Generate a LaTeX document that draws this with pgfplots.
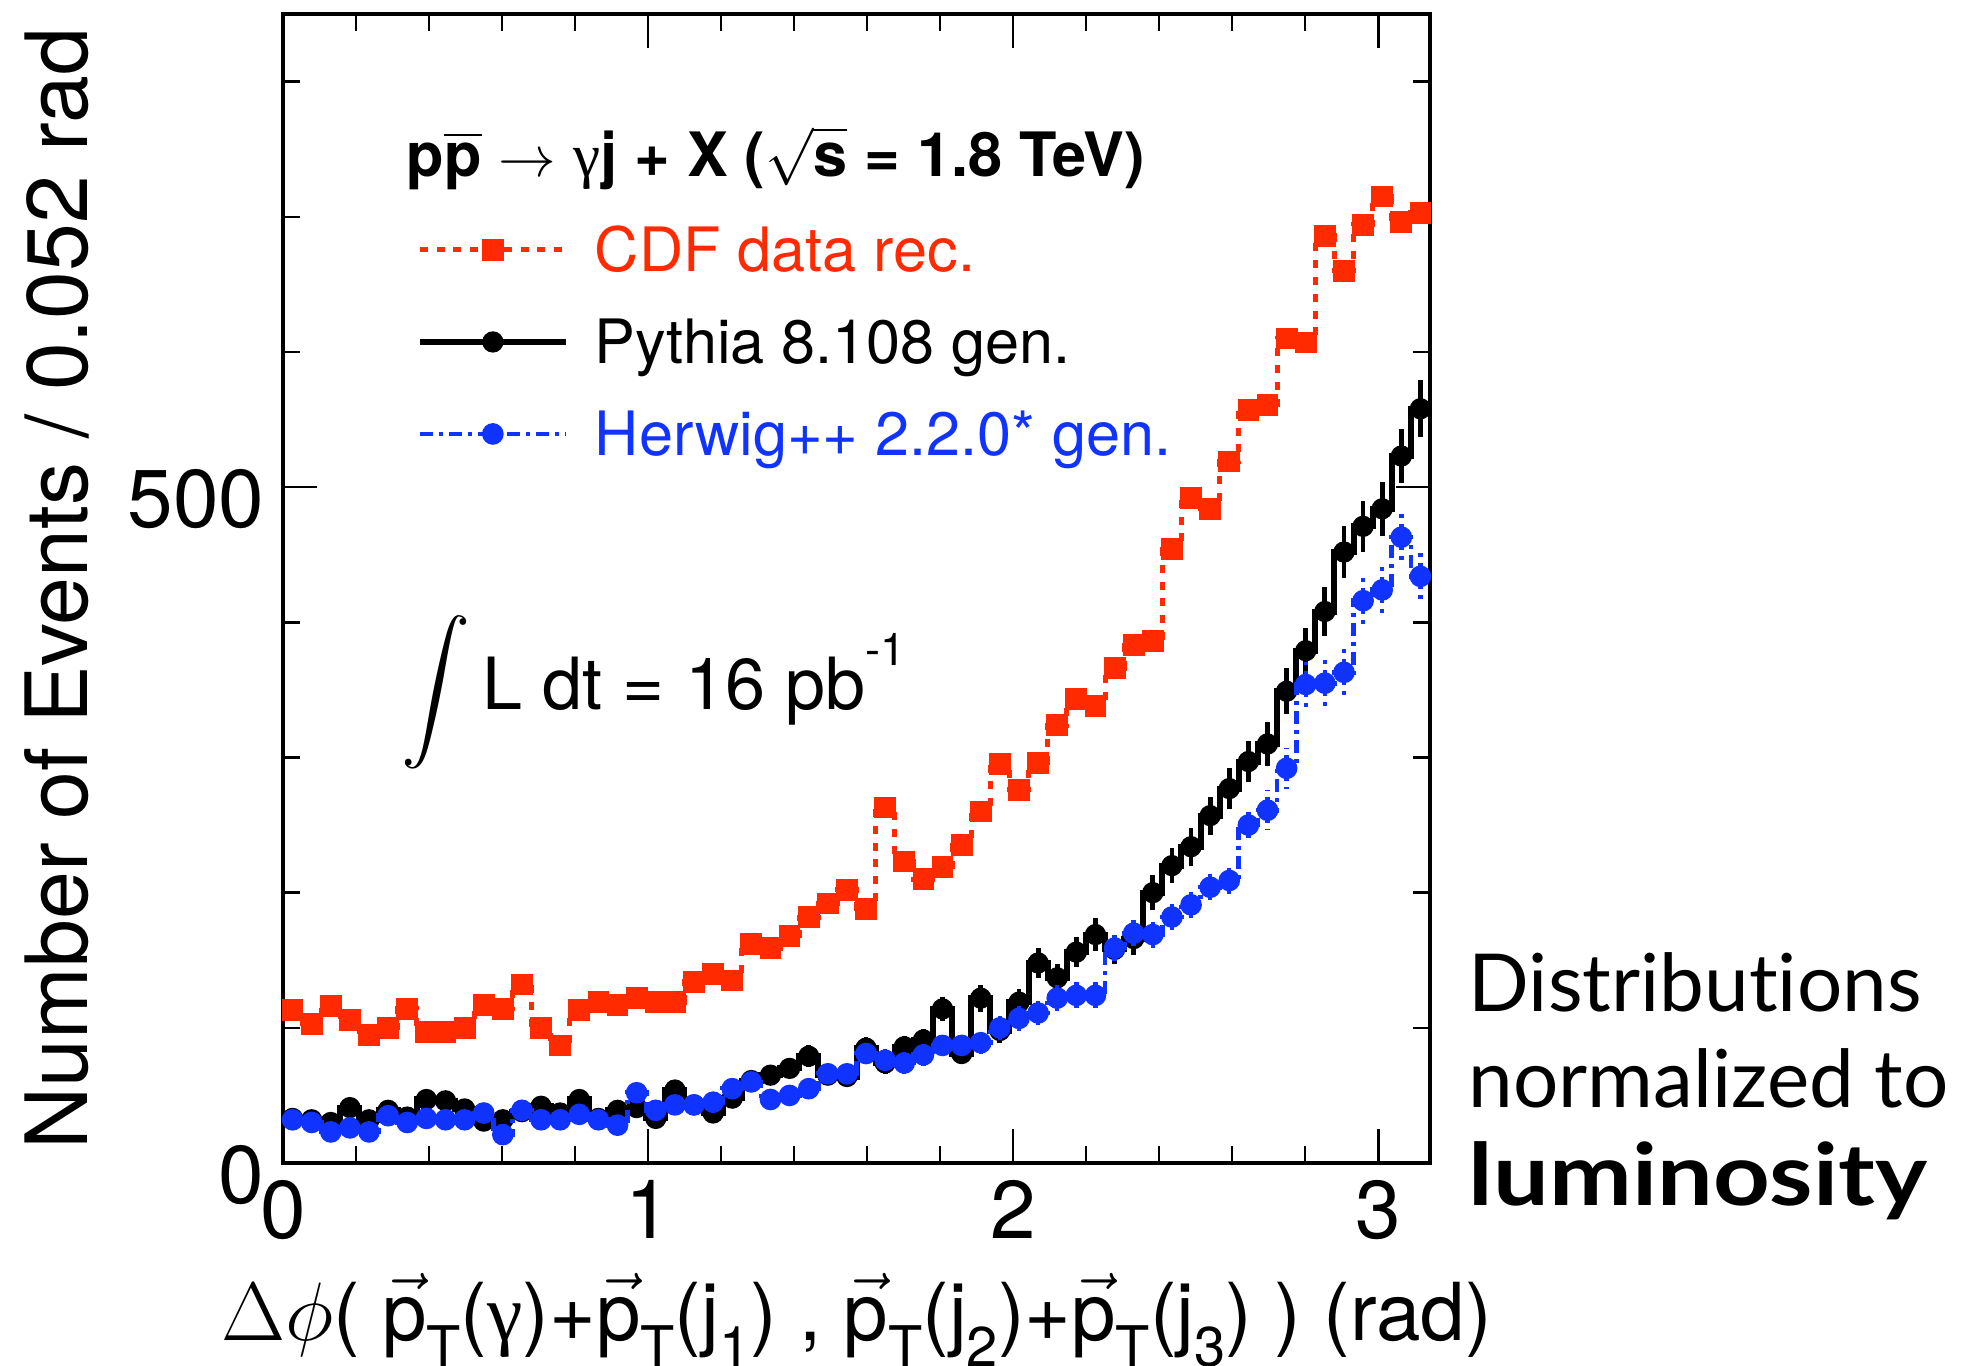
\documentclass[border=0pt]{standalone}
\usepackage{fontspec}
\usepackage{amsmath}
\setmainfont{TeX Gyre Heros}
\newfontfamily\gill[Ligatures=NoCommon]{Lato}
\newfontfamily\symf{Liberation Serif}
\usepackage{pgfplots}
\pgfplotsset{compat=1.18}
\usepackage{pgfplotstable}

\definecolor{cdfred}{RGB}{255,42,0}
\definecolor{hwblue}{RGB}{17,51,255}

\newcommand{\vp}{$\vec{\mbox{p}}$}
\newcommand{\sub}[1]{\raisebox{-6.5pt}{\fontsize{14}{14}\selectfont #1}}

\pgfplotstableread{
x y
0.0262 113
0.0785 103
0.1309 116
0.1833 106
0.2356 95
0.2880 100
0.3403 114
0.3927 97
0.4451 97
0.4974 100
0.5498 117
0.6021 114
0.6545 132
0.7069 100
0.7592 87
0.8116 113
0.8639 119
0.9163 117
0.9687 122
1.0210 119
1.0734 119
1.1257 134
1.1781 140
1.2305 135
1.2828 162
1.3352 159
1.3875 168
1.4399 182
1.4923 192
1.5446 202
1.5970 188
1.6493 263
1.7017 223
1.7541 210
1.8064 219
1.8588 235
1.9111 260
1.9635 295
2.0159 276
2.0682 296
2.1206 324
2.1729 343
2.2253 338
2.2777 366
2.3300 383
2.3824 386
2.4347 454
2.4871 492
2.5395 484
2.5918 519
2.6442 557
2.6965 561
2.7489 610
2.8013 607
2.8536 686
2.9060 660
2.9583 694
3.0107 715
3.0631 696
3.1154 703
}\cdf

\pgfplotstableread{
x y e
0.0262 33 5
0.0785 32 5
0.1309 30 5
0.1833 41 5
0.2356 32 5
0.2880 39 5
0.3403 34 5
0.3927 47 6
0.4451 46 6
0.4974 40 5
0.5498 31 5
0.6021 32 5
0.6545 38 5
0.7069 42 5
0.7592 37 5
0.8116 47 6
0.8639 33 5
0.9163 39 5
0.9687 41 5
1.0210 33 5
1.0734 54 6
1.1257 43 6
1.1781 37 5
1.2305 48 6
1.2828 61 7
1.3352 65 7
1.3875 70 7
1.4399 79 8
1.4923 65 7
1.5446 64 7
1.5970 85 8
1.6493 74 8
1.7017 86 8
1.7541 91 8
1.8064 114 9
1.8588 81 8
1.9111 122 10
1.9635 98 9
2.0159 119 10
2.0682 148 11
2.1206 137 10
2.1729 156 11
2.2253 169 12
2.2777 158 11
2.3300 166 12
2.3824 200 13
2.4347 220 13
2.4871 234 14
2.5395 257 14
2.5918 277 15
2.6442 297 15
2.6965 310 16
2.7489 349 17
2.8013 379 17
2.8536 408 18
2.9060 452 19
2.9583 471 19
3.0107 484 20
3.0631 523 20
3.1154 558 21
}\pythia

\pgfplotstableread{
x y e
0.0262 32 5
0.0785 30 5
0.1309 23 4
0.1833 26 5
0.2356 23 4
0.2880 35 5
0.3403 30 5
0.3927 33 5
0.4451 32 5
0.4974 32 5
0.5498 37 5
0.6021 21 4
0.6545 39 5
0.7069 32 5
0.7592 32 5
0.8116 36 5
0.8639 32 5
0.9163 28 5
0.9687 52 6
1.0210 39 5
1.0734 43 6
1.1257 43 6
1.1781 45 6
1.2305 55 6
1.2828 60 7
1.3352 47 6
1.3875 50 6
1.4399 55 6
1.4923 66 7
1.5446 66 7
1.5970 81 8
1.6493 76 8
1.7017 74 8
1.7541 80 8
1.8064 87 8
1.8588 87 8
1.9111 89 8
1.9635 100 9
2.0159 107 9
2.0682 111 9
2.1206 122 10
2.1729 124 10
2.2253 124 10
2.2777 159 11
2.3300 170 12
2.3824 169 12
2.4347 182 12
2.4871 191 12
2.5395 204 13
2.5918 209 13
2.6442 250 14
2.6965 261 15
2.7489 292 15
2.8013 354 17
2.8536 355 17
2.9060 363 17
2.9583 416 18
3.0107 424 19
3.0631 463 19
3.1154 434 19
}\herwig

\begin{document}
\begin{tikzpicture}
\begin{axis}[
  at={(0pt,0pt)}, anchor=south west,
  scale only axis, width=286.75pt, height=287.25pt,
  clip mode=individual,
  xmin=0, xmax=3.14159, ymin=0, ymax=850,
  xtick={0,1,2,3},
  minor xtick={0.2,0.4,0.6,0.8,1.2,1.4,1.6,1.8,2.2,2.4,2.6,2.8},
  ytick={0,500},
  minor ytick={100,200,300,400,600,700,800},
  tick align=inside,
  xtick pos=both, ytick pos=both,
  xticklabel pos=bottom, yticklabel pos=left,
  major tick length=8.5pt, minor tick length=4.25pt,
  every tick/.style={black, line width=0.6pt},
  axis line style={line width=0.8pt},
  /pgf/number format/assume math mode=true,
  tick label style={font=\fontsize{20.5}{20.5}\selectfont, inner sep=0pt},
  xticklabel style={yshift=-4.25pt},
  yticklabel style={xshift=-4.5pt, yshift=-3pt},
  legend style={at={(axis description cs:0.116,0.818)}, anchor=north west,
    draw=none, fill=none, inner sep=0pt, row sep=10pt,
    font=\fontsize{15.3}{15.3}\selectfont,
    nodes={inner sep=0pt, text height=12pt, text depth=1pt},
    /tikz/every odd column/.append style={column sep=6.5pt}},
  legend cell align=left,
  legend image code/.code={\draw[mark repeat=2,mark phase=2,#1] plot coordinates {(0pt,0pt) (18.25pt,0pt) (36.5pt,0pt)};},
]
\addplot[cdfred, line width=1.25pt, dash pattern=on 2pt off 2.2pt, const plot mark mid,
  mark=square*, mark size=2.1pt, mark options={solid, fill=cdfred}]
  table[x=x, y=y] {\cdf};
\addlegendentry{\textcolor{cdfred}{CDF data rec.}}

\addplot[black, line width=1.5pt, const plot mark mid,
  mark=*, mark size=1.9pt, mark options={solid, fill=black},
  error bars/.cd, y dir=both, y explicit, error mark=none,
  error bar style={line width=1.2pt, solid}]
  table[x=x, y=y, y error=e] {\pythia};
\addlegendentry{Pythia 8.108 gen.}

\addplot[hwblue, line width=1.2pt, dash pattern=on 3.25pt off 1.5pt on 1pt off 1.5pt, const plot mark mid,
  mark=*, mark size=2.1pt, mark options={solid, fill=hwblue},
  error bars/.cd, y dir=both, y explicit, error mark=none,
  error bar style={line width=1.1pt, dash pattern=on 3.25pt off 1.5pt on 1pt off 1.5pt}]
  table[x=x, y=y, y error=e] {\herwig};
\addlegendentry{\textcolor{hwblue}{Herwig++ 2.2.0* gen.}}

% header
\path (axis description cs:0,0) ++(30.75pt,246.6pt) node[anchor=base west, inner sep=0pt]
  {\fontsize{15.3}{15.3}\selectfont\bfseries p$\overline{\mbox{\bfseries p}}$ $\rightarrow$ {\mdseries\symf γ}j + X ($\sqrt{\mbox{\bfseries s}}$ = 1.8 TeV)};
% luminosity
\path (axis description cs:0,0) ++(29.5pt,113.3pt) node[anchor=base west, inner sep=0pt]
  {\fontsize{18}{18}\selectfont $\displaystyle\int$\,L dt = 16 pb\raisebox{11pt}{\fontsize{11.3}{11.3}\selectfont -1}};
% y label
\path (axis description cs:0,0.5) ++(-48.75pt,0pt) node[rotate=90, anchor=base, inner sep=0pt]
  {\fontsize{21.5}{21.5}\selectfont Number of Events / 0.052 rad};
% x label
\path (axis description cs:0.5,0) ++(0pt,-44.25pt) node[anchor=base, inner sep=0pt]
  {\fontsize{20}{20}\selectfont $\Delta\phi$( \vp\sub{T}({\symf γ})+\vp\sub{T}(j\sub{1}) , \vp\sub{T}(j\sub{2})+\vp\sub{T}(j\sub{3}) ) (rad)};
% right text
\path (axis description cs:0,0) ++(296.25pt,38pt) node[anchor=base west, inner sep=0pt]
  {\gill\fontsize{20}{20}\selectfont Distributions};
\path (axis description cs:0,0) ++(296.25pt,14pt) node[anchor=base west, inner sep=0pt]
  {\gill\fontsize{20}{20}\selectfont normalized to};
\path (axis description cs:0,0) ++(296.25pt,-10.5pt) node[anchor=base west, inner sep=0pt]
  {\scalebox{1.15}[1.0]{\gill\fontsize{21.5}{21.5}\selectfont\bfseries luminosity}};
\end{axis}
\pgfresetboundingbox
\path[use as bounding box] (-70.75pt,-50.5pt) rectangle (424pt,290.75pt);
\end{tikzpicture}
\end{document}
